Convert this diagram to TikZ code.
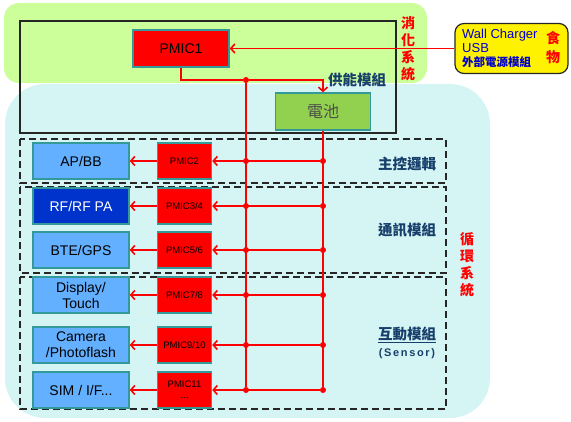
\documentclass[tikz,border=0pt]{standalone}
\usepackage{fontspec}
\usetikzlibrary{arrows.meta,positioning}
\setmainfont{Liberation Sans}
\newfontfamily\cjkfont{Noto Sans CJK TC}
\newfontfamily\spacedfont[LetterSpace=15]{Liberation Sans}
\definecolor{limebg}{HTML}{CCFF99}
\definecolor{aquabg}{HTML}{D5F4F4}
\definecolor{skyblue}{HTML}{62B0FF}
\definecolor{deepblue}{HTML}{0033CC}
\definecolor{tealedge}{HTML}{339999}
\definecolor{navytext}{HTML}{173F6B}
\definecolor{battgreen}{HTML}{92D050}
\definecolor{chargerblue}{HTML}{0000CC}

\begin{document}
\begin{tikzpicture}[x=1pt, y=-1pt,
    module/.style={draw=tealedge, line width=1.5pt, fill=skyblue, minimum width=96pt,
        minimum height=36pt, inner sep=0pt, align=center, font=\fontsize{14}{16}\selectfont},
    pmic/.style={draw=tealedge, line width=1.5pt, fill=red, minimum width=54pt,
        minimum height=36pt, inner sep=0pt, align=center, font=\fontsize{9.5}{11}\selectfont},
    dot/.style={circle, fill=red, inner sep=0pt, minimum size=6pt},
    wire/.style={red, line width=1.6pt},
    barb/.style={-{Straight Barb[length=4pt,width=9pt]}},
    frame/.style={draw=black!85, line width=1.5pt},
    group/.style={draw=black!85, line width=1.5pt, dash pattern=on 7pt off 4pt},
    groupname/.style={text=navytext, inner sep=0pt, align=center,
        font=\cjkfont\bfseries\fontsize{14.5}{17}\selectfont},
    system/.style={text=red, inner sep=0pt, align=center,
        font=\cjkfont\bfseries\fontsize{14}{17}\selectfont}]
    \useasboundingbox (0,0) rectangle (571,422);
    % backgrounds and frames
    \fill[limebg, rounded corners=15pt] (4,3) rectangle (427,83);
    \fill[aquabg, rounded corners=40pt] (5,84) rectangle (490,418);
    \draw[frame] (20,21) rectangle (396,133);
    \draw[group] (20,139) rectangle (446,183);
    \draw[group] (20,187) rectangle (446,273);
    \draw[group] (20,277) rectangle (446,409);

    \node[pmic, minimum width=96pt, minimum height=37pt, font=\fontsize{14}{16}\selectfont]
        (pmic1) at (181,48.5) {PMIC1};
    \node[draw=tealedge, line width=1.5pt, fill=battgreen, minimum width=95pt, minimum height=37pt,
        text=black!70, font=\cjkfont\fontsize{16}{18}\selectfont] (batt) at (323,111.5) {電池};
    \node[draw=black!85, line width=1.2pt, fill=yellow, rounded corners=9pt,
        minimum width=113pt, minimum height=50pt] (wall) at (511.5,48.5) {};
    \node[anchor=west, inner sep=0pt, align=left, text=chargerblue, font=\fontsize{13}{14}\selectfont]
        (walltxt) at (462,48) {Wall Charger\\USB\\{\cjkfont\bfseries\fontsize{11.5}{14}\selectfont 外部電源模組}};
    \node[system, font=\cjkfont\bfseries\fontsize{14}{19}\selectfont] (food) at (553,48) {食\\物};

    % modules and their PMICs
    \node[module] (apbb) at (81,161) {AP/BB};
    \node[module, fill=deepblue, text=white] (rfpa) at (81,206) {RF/RF PA};
    \node[module] (btegps) at (81,250) {BTE/GPS};
    \node[module] (display) at (81,295) {Display/\\Touch};
    \node[module] (camera) at (81,345) {Camera\\/Photoflash};
    \node[module] (sim) at (81,390) {SIM / I/F...};
    \node[pmic, right=27pt of apbb] (pmic2) {PMIC2};
    \node[pmic, right=27pt of rfpa] (pmic34) {PMIC3/4};
    \node[pmic, right=27pt of btegps] (pmic56) {PMIC5/6};
    \node[pmic, right=27pt of display] (pmic78) {PMIC7/8};
    \node[pmic, right=27pt of camera] (pmic910) {PMIC9/10};
    \node[pmic, right=27pt of sim] (pmic11) {PMIC11\\...};

    % taps on the two buses
    \node[dot] (tap0) at (246,80) {};
    \node[dot] (tap1) at (246,161) {};
    \node[dot] (tap2) at (246,206) {};
    \node[dot] (tap3) at (246,250) {};
    \node[dot] (tap4) at (246,295) {};
    \node[dot] (tap5) at (246,345) {};
    \node[dot] (tap6) at (246,390) {};
    \node[dot] (feed1) at (323,161) {};
    \node[dot] (feed2) at (323,206) {};
    \node[dot] (feed3) at (323,250) {};
    \node[dot] (feed4) at (323,295) {};
    \node[dot] (feed5) at (323,345) {};
    \node[dot] (feed6) at (323,390) {};

    \draw[wire, barb] (wall) -- (pmic1);
    \draw[wire] (pmic1.south) |- (tap0);
    \draw[wire, barb] (tap0) -| (batt.north);
    \draw[wire] (tap0) -- (tap6);
    \draw[wire] (batt) -- (feed6);
    \draw[wire, barb] (feed1) -- (pmic2);
    \draw[wire, barb] (feed2) -- (pmic34);
    \draw[wire, barb] (feed3) -- (pmic56);
    \draw[wire, barb] (feed4) -- (pmic78);
    \draw[wire, barb] (feed5) -- (pmic910);
    \draw[wire, barb] (feed6) -- (pmic11);
    \draw[wire, barb] (pmic2) -- (apbb);
    \draw[wire, barb] (pmic34) -- (rfpa);
    \draw[wire, barb] (pmic56) -- (btegps);
    \draw[wire, barb] (pmic78) -- (display);
    \draw[wire, barb] (pmic910) -- (camera);
    \draw[wire, barb] (pmic11) -- (sim);

    % labels
    \node[groupname] (supply) at (357,80) {供能模組};
    \node[groupname] (ctrl) at (407,164) {主控邏輯};
    \node[groupname] (comm) at (407,230) {通訊模組};
    \node[groupname] (inter) at (407,343)
        {\underline{互動模組}\\{\spacedfont\bfseries\fontsize{11}{12}\selectfont (Sensor)}};
    \node[system] (digest) at (408,48.5) {消\\化\\系\\統};
    \node[system] (circ) at (467,265) {循\\環\\系\\統};
\end{tikzpicture}
\end{document}
